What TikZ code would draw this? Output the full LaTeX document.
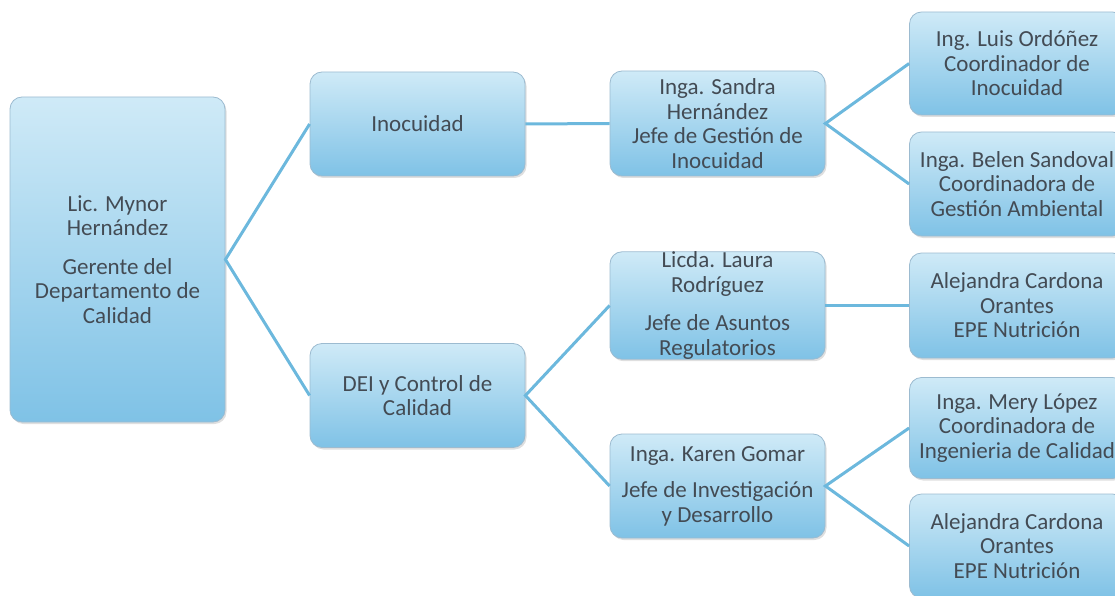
\documentclass[tikz,border=0pt]{standalone}
\usepackage{fontspec}
\setmainfont{Carlito}
\usetikzlibrary{shadows}
\definecolor{boxtop}{HTML}{CFEAF7}
\definecolor{boxbot}{HTML}{7FC2E6}
\definecolor{boxline}{HTML}{9CBBD0}
\definecolor{linkblue}{HTML}{6CB8DD}
\definecolor{txtgrey}{HTML}{434B54}
\tikzset{
 orgbox/.style={draw=boxline, line width=.8pt, rounded corners=12pt,
   top color=boxtop, bottom color=boxbot, minimum width=215pt, minimum height=104pt,
   align=center, inner sep=0pt, text=txtgrey, font=\fontsize{23}{24.5}\selectfont,
   drop shadow={opacity=.25, shadow xshift=1.5pt, shadow yshift=-2pt}},
 link/.style={linkblue, line width=3pt}
}
\begin{document}
\begin{tikzpicture}[x=1pt, y=-1pt]
\useasboundingbox (0,0) rectangle (1115,596);
\clip (0,0) rectangle (1115,596);
% niveles
\node[orgbox, minimum height=325pt] (gerente) at (117.5,259.5) {Lic. Mynor\\Hernández\\[14pt]Gerente del\\Departamento de\\Calidad};
\node[orgbox] (inocuidad) at (417.5,124) {Inocuidad};
\node[orgbox] (dei) at (417.5,395.5) {DEI y Control de\\Calidad};
\node[orgbox, minimum height=105pt] (sandra) at (717.5,123.5) {Inga. Sandra\\Hernández\\Jefe de Gestión de\\Inocuidad};
\node[orgbox, minimum height=105pt] (laura) at (717.5,305.5) {Licda. Laura\\Rodríguez\\[14pt]Jefe de Asuntos\\Regulatorios};
\node[orgbox] (karen) at (717.5,486) {Inga. Karen Gomar\\[12pt]Jefe de Investigación\\y Desarrollo};
\node[orgbox, minimum height=103pt] (luis) at (1017,63.5) {Ing. Luis Ordóñez\\Coordinador de\\Inocuidad};
\node[orgbox] (belen) at (1017,184) {Inga. Belen Sandoval\\Coordinadora de\\Gestión Ambiental};
\node[orgbox, minimum height=105pt] (alejandraA) at (1017,305.5) {Alejandra Cardona\\Orantes\\EPE Nutrición};
\node[orgbox, minimum height=101pt] (mery) at (1017,428) {Inga. Mery López\\Coordinadora de\\Ingenieria de Calidad};
\node[orgbox] (alejandraB) at (1017,546) {Alejandra Cardona\\Orantes\\EPE Nutrición};
% conectores
\draw[link] (inocuidad.west) -- (gerente.east) -- (dei.west);
\draw[link] (inocuidad.east) -- (sandra.west);
\draw[link] (luis.west) -- (sandra.east) -- (belen.west);
\draw[link] (laura.west) -- (dei.east) -- (karen.west);
\draw[link] (laura.east) -- (alejandraA.west);
\draw[link] (mery.west) -- (karen.east) -- (alejandraB.west);
\end{tikzpicture}
\end{document}
